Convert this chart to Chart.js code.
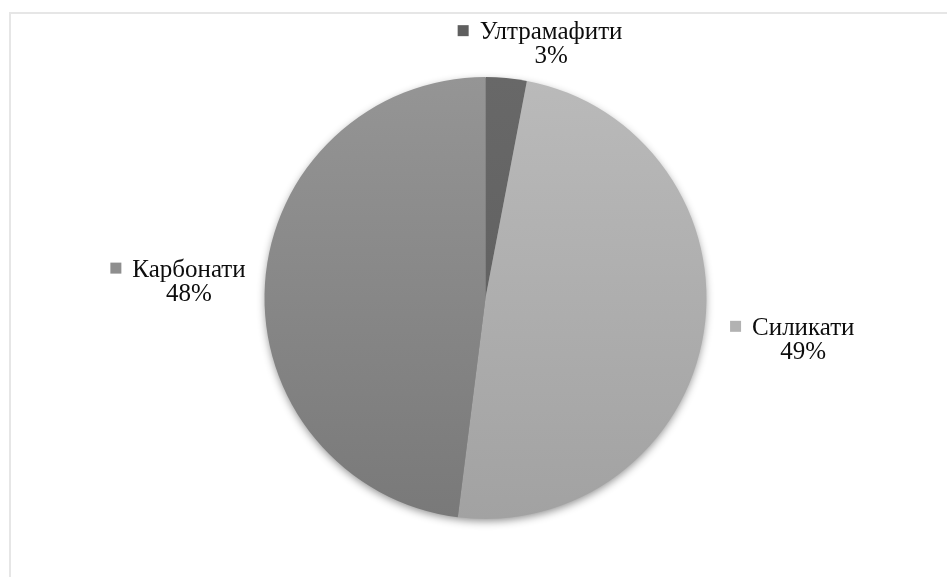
<!DOCTYPE html>
<html>
<head>
<meta charset="utf-8">
<title>Состав пород</title>
<script src="https://cdn.jsdelivr.net/npm/chart.js@4.4.0/dist/chart.umd.min.js"></script>
<style>
  html, body { margin: 0; padding: 0; background: #fff; }
  #wrap { width: 947px; height: 577px; }
</style>
</head>
<body>
<div id="wrap"><canvas id="myChart" width="947" height="577"></canvas></div>
<script>
// Rock types and their share, %
var labels = ['Ултрамафити', 'Силикати', 'Карбонати'];
var shares = [3, 49, 48];

// slice shading (top -> bottom) and legend key colours
var topColors = ['#686868', '#bababa', '#959595'];
var bottomColors = ['#5c5c5c', '#a2a2a2', '#797979'];
var keyColors = ['#5f5f5f', '#b2b2b2', '#8e8e8e'];

// thin frame around the plot
var frame = {
  id: 'frame',
  beforeDraw: function(chart) {
    var ctx = chart.ctx;
    ctx.save();
    ctx.strokeStyle = '#e6e6e6';
    ctx.lineWidth = 2;
    ctx.beginPath();
    ctx.moveTo(10, chart.height);
    ctx.lineTo(10, 13);
    ctx.lineTo(chart.width, 13);
    ctx.stroke();
    ctx.restore();
  }
};

// soft drop shadow under the whole pie
var pieShadow = {
  id: 'pieShadow',
  beforeDatasetsDraw: function(chart) {
    var arc = chart.getDatasetMeta(0).data[0];
    var ctx = chart.ctx;
    ctx.save();
    ctx.shadowColor = 'rgba(0,0,0,0.45)';
    ctx.shadowBlur = 9;
    ctx.shadowOffsetY = 3;
    ctx.fillStyle = '#888';
    ctx.beginPath();
    ctx.arc(arc.x, arc.y, arc.outerRadius - 1, 0, Math.PI * 2);
    ctx.fill();
    ctx.restore();
  }
};

// data labels outside each slice: key square + name, percent below
var sliceLabels = {
  id: 'sliceLabels',
  afterDatasetsDraw: function(chart, args, opts) {
    var ctx = chart.ctx;
    var meta = chart.getDatasetMeta(0);
    var total = shares.reduce(function(a, b) { return a + b; }, 0);
    ctx.save();
    ctx.font = opts.font;
    meta.data.forEach(function(arc, i) {
      var mid = (arc.startAngle + arc.endAngle) / 2;
      var d = arc.outerRadius + opts.gap;
      var bx = arc.x + Math.cos(mid) * d + opts.nudge[i][0];
      var by = arc.y + Math.sin(mid) * d + opts.nudge[i][1];
      var name = labels[i];
      var w = ctx.measureText(name).width;
      var key = opts.keySize, kgap = opts.keyGap;
      var left = bx - (key + kgap + w) / 2;
      var nameX = left + key + kgap;
      var base = by - 3;
      ctx.fillStyle = keyColors[i];
      ctx.fillRect(left, base - 14, key, key);
      ctx.fillStyle = '#0d0d0d';
      ctx.textAlign = 'left';
      ctx.textBaseline = 'alphabetic';
      ctx.fillText(name, nameX, base);
      ctx.textAlign = 'center';
      ctx.fillText(Math.round(shares[i] / total * 100) + '%', nameX + w / 2, base + 24);
    });
    ctx.restore();
  }
};

var ctx = document.getElementById('myChart').getContext('2d');
var myChart = new Chart(ctx, {
  type: 'pie',
  data: {
    labels: labels,
    datasets: [{
      data: shares,
      borderWidth: 0,
      backgroundColor: function(context) {
        var area = context.chart.chartArea;
        if (!area) return keyColors[context.dataIndex];
        var g = context.chart.ctx.createLinearGradient(0, area.top, 0, area.bottom);
        g.addColorStop(0, topColors[context.dataIndex]);
        g.addColorStop(1, bottomColors[context.dataIndex]);
        return g;
      }
    }]
  },
  options: {
    responsive: false,
    animation: false,
    layout: { padding: { left: 264, right: 240, top: 77, bottom: 58 } },
    plugins: {
      legend: { display: false },
      tooltip: { enabled: false },
      sliceLabels: {
        font: '25px "Liberation Serif", "Times New Roman", serif',
        gap: 40,
        keySize: 11,
        keyGap: 11,
        nudge: [[30, 4], [49, -1], [-47, -2]]
      }
    }
  },
  plugins: [frame, pieShadow, sliceLabels]
});
</script>
</body>
</html>
